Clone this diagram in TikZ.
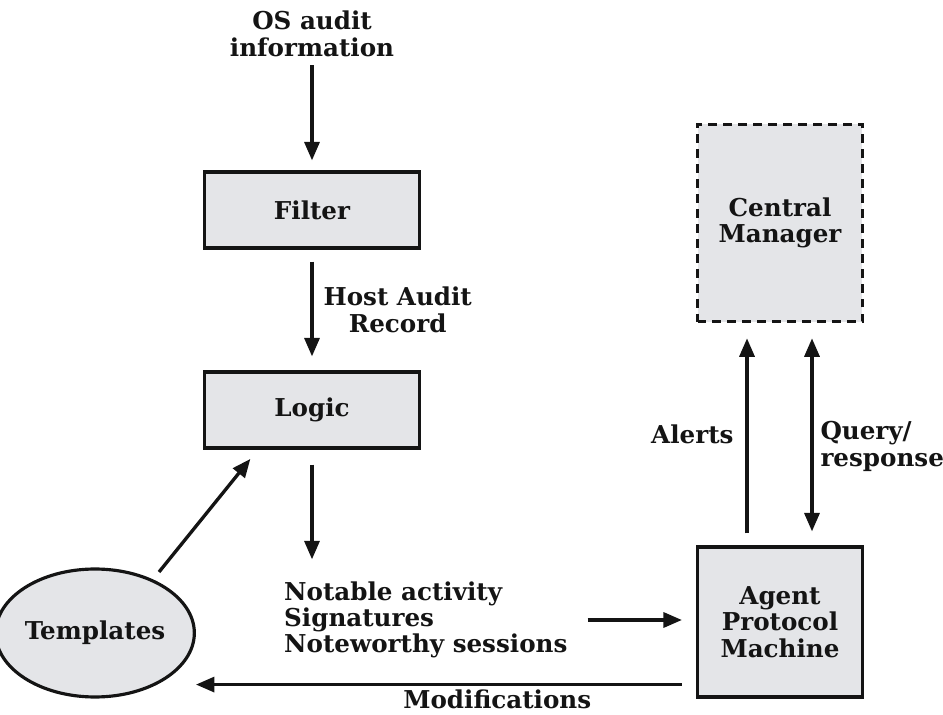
\documentclass[tikz,border=0pt]{standalone}
\usepackage{fontspec}
\setmainfont{DejaVu Serif}
\usepackage{tikz}
\usetikzlibrary{arrows.meta, positioning, calc, shapes.geometric}
\definecolor{boxgray}{HTML}{E4E5E8}
\definecolor{inkblack}{HTML}{141414}

\begin{document}
\begin{tikzpicture}[x=0.02cm, y=-0.02cm,
  every node/.style={font=\fontsize{14}{15}\selectfont\bfseries, text=inkblack},
  block/.style={draw=inkblack, line width=1.8pt, fill=boxgray, minimum width=4.3cm, minimum height=1.52cm, inner sep=0pt},
  flow/.style={draw=inkblack, line width=1.9pt, -{Triangle[length=10.5pt, width=8.5pt]}}]
  \useasboundingbox (0,0) rectangle (943,715);
  \node[align=center] (osinfo) at (312,34) {OS audit\\information};
  \node[block] (filter) at (312,210) {Filter};
  \node[block] (logic) at (312,410) {Logic};
  \node[block, minimum width=3.3cm, minimum height=3cm, align=center] (agent) at (780,622) {Agent\\Protocol\\Machine};
  \node[block, dashed, dash pattern=on 5pt off 3.5pt, minimum width=3.3cm, minimum height=3.95cm, align=center] (central) at (780,223) {Central\\Manager};
  \node[draw=inkblack, line width=1.8pt, fill=boxgray, ellipse, minimum width=3.32cm, minimum height=2.56cm, inner sep=0pt] (templates) at (95,633) {Templates};
  \node[anchor=west, align=left] (notable) at (278,620) {Notable activity\\Signatures\\Noteworthy sessions};
  \draw[flow, shorten <=0.05cm, shorten >=0.2cm] (osinfo) -- (filter);
  \draw[flow, shorten <=0.24cm, shorten >=0.28cm] (filter) -- (logic)
    node[midway, right=0.08cm, align=center] {Host Audit\\Record};
  \draw[flow, shorten <=0.3cm, shorten >=0.32cm] (logic.south) -- (logic.south |- notable.north);
  \draw[flow, shorten <=0.28cm, shorten >=0.28cm] (notable.east) -- (notable.east -| agent.west);
  \draw[flow, shorten <=0.24cm, shorten >=0.3cm] ([xshift=-0.66cm]agent.north) -- ([xshift=-0.66cm]central.south)
    node[midway, left=0.12cm] {Alerts};
  \draw[flow, {Triangle[length=10.5pt, width=8.5pt]}-{Triangle[length=10.5pt, width=8.5pt]}, shorten <=0.28cm, shorten >=0.3cm] ([xshift=0.64cm]agent.north) -- ([xshift=0.64cm]central.south)
    node[midway, right=0.02cm, yshift=-0.24cm, align=left] {Query/\\response};
  \coordinate (modstart) at ([shift={(-14,-14)}]agent.south west);
  \draw[flow] (modstart) -- (modstart -| templates.east)
    node[pos=0.38, below=0.03cm, inner sep=1pt] (modlabel) {Modifications};
  \draw[flow, shorten >=0.24cm] ([shift={(64,-61)}]templates.center) -- ([xshift=1.1cm]logic.south west);
\end{tikzpicture}
\end{document}
